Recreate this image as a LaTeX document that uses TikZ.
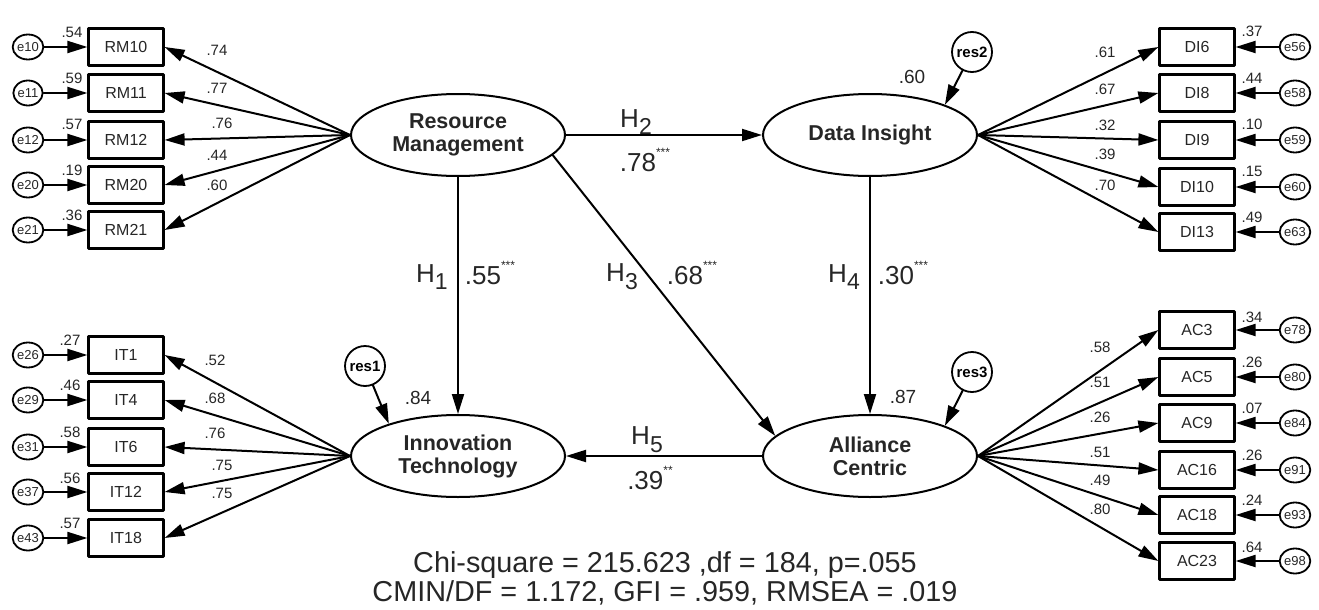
\documentclass[tikz,border=0pt]{standalone}
\usepackage{fontspec}
\setmainfont{Liberation Sans}
\usetikzlibrary{arrows.meta,shapes.geometric}

\newcommand{\hyp}[1]{H\raisebox{-0.3em}{\fontsize{23}{23}\selectfont #1}}
\newcommand{\sig}[2]{#1\raisebox{0.6em}{\fontsize{12}{12}\selectfont #2}}

\begin{document}
\begin{tikzpicture}
% SEM path diagram with standardised estimates
\providecommand{\semLineWidth}{2pt}
\providecommand{\semTextColor}{black!85}
\tikzset{
  indic/.style={draw, line width=2.2pt, minimum width=75pt, minimum height=37pt, inner sep=0pt, text=\semTextColor, font=\fontsize{16}{16}\selectfont},
  errc/.style={draw, ellipse, line width=1.8pt, minimum width=29pt, minimum height=25pt, inner sep=0pt, text=\semTextColor, font=\fontsize{13}{13}\selectfont},
  latent/.style={draw, ellipse, line width=\semLineWidth, minimum width=214pt, minimum height=82pt, inner sep=0pt, align=center, text=\semTextColor, font=\bfseries\fontsize{21.5}{23}\selectfont},
  resid/.style={draw, circle, line width=1.8pt, minimum size=40pt, inner sep=0pt, font=\bfseries\fontsize{15}{15}\selectfont},
  est/.style={inner sep=0pt, text=\semTextColor, font=\fontsize{15}{15}\selectfont},
  smc/.style={inner sep=0pt, text=\semTextColor, font=\fontsize{19}{19}\selectfont},
  hlab/.style={inner sep=0pt, text=\semTextColor, font=\fontsize{26}{26}\selectfont},
  link/.style={line width=\semLineWidth, -{Triangle[length=20pt,width=12pt]}},
}
\begin{scope}[x=1pt, y=-1pt, line cap=round, line join=round]
  \useasboundingbox (0,0) rectangle (1319,610);
  % Latent variables
  \node[latent] (RM) at (458,135) {Resource\\Management};
  \node[latent] (DI) at (870,135) {Data Insight};
  \node[latent] (IT) at (458,456) {Innovation\\Technology};
  \node[latent] (AC) at (870,456) {Alliance\\Centric};
  % Residuals of the endogenous variables
  \node[resid] (res1) at (365,366) {res1};
  \node[resid] (res2) at (972,52) {res2};
  \node[resid] (res3) at (972,372) {res3};
  \draw[link] (res1) -- (IT.155);
  \draw[link] (res2) -- (DI.22);
  \draw[link] (res3) -- (AC.22);
  \node[smc] (r2IT) at (418,398) {.84};
  \node[smc] (r2DI) at (912,77) {.60};
  \node[smc] (r2AC) at (903,397) {.87};
  % Structural paths
  \draw[link] (RM.east) -- (DI.west);
  \draw[link] (RM.south) -- (IT.north);
  \draw[link] (RM.-12) -- (AC.168);
  \draw[link] (DI.south) -- (AC.north);
  \draw[link] (AC.west) -- (IT.east);
  \node[hlab] (h2) at (636,122) {\hyp{2}};
  \node[hlab] (b2) at (645,160) {\sig{.78}{***}};
  \node[hlab] (h1) at (432,277) {\hyp{1}};
  \node[hlab] (b1) at (490,273) {\sig{.55}{***}};
  \node[hlab] (h3) at (622,277) {\hyp{3}};
  \node[hlab] (b3) at (692,273) {\sig{.68}{***}};
  \node[hlab] (h4) at (844,277) {\hyp{4}};
  \node[hlab] (b4) at (903,273) {\sig{.30}{***}};
  \node[hlab] (h5) at (647,440) {\hyp{5}};
  \node[hlab] (b5) at (650,478) {\sig{.39}{**}};

  % Resource Management block
  \node[indic] (RM10) at (126,47) {RM10};
  \node[indic] (RM11) at (126,93) {RM11};
  \node[indic] (RM12) at (126,140) {RM12};
  \node[indic] (RM20) at (126,185) {RM20};
  \node[indic] (RM21) at (126,230) {RM21};
  \node[errc] (e10) at (28,47) {e10};
  \node[errc] (e11) at (28,93) {e11};
  \node[errc] (e12) at (28,140) {e12};
  \node[errc] (e20) at (28,185) {e20};
  \node[errc] (e21) at (28,230) {e21};
  \draw[link] (e10) -- (RM10);
  \draw[link] (e11) -- (RM11);
  \draw[link] (e12) -- (RM12);
  \draw[link] (e20) -- (RM20);
  \draw[link] (e21) -- (RM21);
  \draw[link] (RM.west) -- (RM10.east);
  \draw[link] (RM.west) -- (RM11.east);
  \draw[link] (RM.west) -- (RM12.east);
  \draw[link] (RM.west) -- (RM20.east);
  \draw[link] (RM.west) -- (RM21.east);
  \node[est] (smc10) at (72,32) {.54};
  \node[est] (smc11) at (72,78) {.59};
  \node[est] (smc12) at (72,124) {.57};
  \node[est] (smc20) at (72,170) {.19};
  \node[est] (smc21) at (72,215) {.36};
  \node[est] (ld10) at (217,50) {.74};
  \node[est] (ld11) at (217,88) {.77};
  \node[est] (ld12) at (222,123) {.76};
  \node[est] (ld20) at (217,155) {.44};
  \node[est] (ld21) at (217,185) {.60};

  % Innovation Technology block
  \node[indic] (IT1) at (126,355) {IT1};
  \node[indic] (IT4) at (126,400) {IT4};
  \node[indic] (IT6) at (126,447) {IT6};
  \node[indic] (IT12) at (126,492) {IT12};
  \node[indic] (IT18) at (126,538) {IT18};
  \node[errc] (e26) at (28,355) {e26};
  \node[errc] (e29) at (28,400) {e29};
  \node[errc] (e31) at (28,447) {e31};
  \node[errc] (e37) at (28,492) {e37};
  \node[errc] (e43) at (28,538) {e43};
  \draw[link] (e26) -- (IT1);
  \draw[link] (e29) -- (IT4);
  \draw[link] (e31) -- (IT6);
  \draw[link] (e37) -- (IT12);
  \draw[link] (e43) -- (IT18);
  \draw[link] (IT.west) -- (IT1.east);
  \draw[link] (IT.west) -- (IT4.east);
  \draw[link] (IT.west) -- (IT6.east);
  \draw[link] (IT.west) -- (IT12.east);
  \draw[link] (IT.west) -- (IT18.east);
  \node[est] (smc26) at (70,340) {.27};
  \node[est] (smc29) at (70,385) {.46};
  \node[est] (smc31) at (70,432) {.58};
  \node[est] (smc37) at (70,478) {.56};
  \node[est] (smc43) at (70,523) {.57};
  \node[est] (ld26) at (215,360) {.52};
  \node[est] (ld29) at (215,398) {.68};
  \node[est] (ld31) at (215,433) {.76};
  \node[est] (ld37) at (222,465) {.75};
  \node[est] (ld43) at (222,493) {.75};

  % Data Insight block
  \node[indic] (DI6) at (1197,47) {DI6};
  \node[indic] (DI8) at (1197,93) {DI8};
  \node[indic] (DI9) at (1197,140) {DI9};
  \node[indic] (DI10) at (1197,187) {DI10};
  \node[indic] (DI13) at (1197,232) {DI13};
  \node[errc] (e56) at (1295,47) {e56};
  \node[errc] (e58) at (1295,93) {e58};
  \node[errc] (e59) at (1295,140) {e59};
  \node[errc] (e60) at (1295,187) {e60};
  \node[errc] (e63) at (1295,232) {e63};
  \draw[link] (e56) -- (DI6);
  \draw[link] (e58) -- (DI8);
  \draw[link] (e59) -- (DI9);
  \draw[link] (e60) -- (DI10);
  \draw[link] (e63) -- (DI13);
  \draw[link] (DI.east) -- (DI6.west);
  \draw[link] (DI.east) -- (DI8.west);
  \draw[link] (DI.east) -- (DI9.west);
  \draw[link] (DI.east) -- (DI10.west);
  \draw[link] (DI.east) -- (DI13.west);
  \node[est] (smc56) at (1252,31) {.37};
  \node[est] (smc58) at (1252,78) {.44};
  \node[est] (smc59) at (1252,124) {.10};
  \node[est] (smc60) at (1252,171) {.15};
  \node[est] (smc63) at (1252,217) {.49};
  \node[est] (ld56) at (1105,52) {.61};
  \node[est] (ld58) at (1105,89) {.67};
  \node[est] (ld59) at (1105,125) {.32};
  \node[est] (ld60) at (1105,154) {.39};
  \node[est] (ld63) at (1105,185) {.70};

  % Alliance Centric block
  \node[indic] (AC3) at (1197,330) {AC3};
  \node[indic] (AC5) at (1197,377) {AC5};
  \node[indic] (AC9) at (1197,423) {AC9};
  \node[indic] (AC16) at (1197,470) {AC16};
  \node[indic] (AC18) at (1197,515) {AC18};
  \node[indic] (AC23) at (1197,561) {AC23};
  \node[errc] (e78) at (1295,330) {e78};
  \node[errc] (e80) at (1295,377) {e80};
  \node[errc] (e84) at (1295,423) {e84};
  \node[errc] (e91) at (1295,470) {e91};
  \node[errc] (e93) at (1295,515) {e93};
  \node[errc] (e98) at (1295,561) {e98};
  \draw[link] (e78) -- (AC3);
  \draw[link] (e80) -- (AC5);
  \draw[link] (e84) -- (AC9);
  \draw[link] (e91) -- (AC16);
  \draw[link] (e93) -- (AC18);
  \draw[link] (e98) -- (AC23);
  \draw[link] (AC.east) -- (AC3.west);
  \draw[link] (AC.east) -- (AC5.west);
  \draw[link] (AC.east) -- (AC9.west);
  \draw[link] (AC.east) -- (AC16.west);
  \draw[link] (AC.east) -- (AC18.west);
  \draw[link] (AC.east) -- (AC23.west);
  \node[est] (smc78) at (1252,317) {.34};
  \node[est] (smc80) at (1252,362) {.26};
  \node[est] (smc84) at (1252,408) {.07};
  \node[est] (smc91) at (1252,455) {.26};
  \node[est] (smc93) at (1252,500) {.24};
  \node[est] (smc98) at (1252,547) {.64};
  \node[est] (ld78) at (1100,347) {.58};
  \node[est] (ld80) at (1100,382) {.51};
  \node[est] (ld84) at (1100,417) {.26};
  \node[est] (ld91) at (1100,452) {.51};
  \node[est] (ld93) at (1100,480) {.49};
  \node[est] (ld98) at (1100,509) {.80};

  % Fit indices
  \node[anchor=base, align=center, inner sep=0pt, text=\semTextColor, font=\fontsize{28.8}{29}\selectfont] (fit) at (665,601)
    {Chi-square = 215.623 ,df = 184, p=.055\\CMIN/DF = 1.172, GFI = .959, RMSEA = .019};
\end{scope}
\end{tikzpicture}
\end{document}
